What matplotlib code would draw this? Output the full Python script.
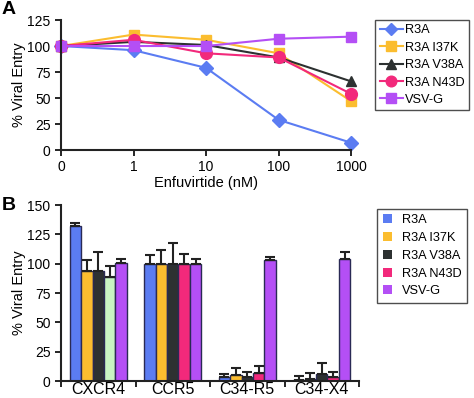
import numpy as np
import matplotlib.pyplot as plt
from matplotlib.patches import Patch

plt.rcParams['font.family'] = ['Liberation Sans', 'DejaVu Sans']

# Panel A: entry vs enfuvirtide dose
doses = ['0', '1', '10', '100', '1000']
r3a = [100, 96, 79, 29, 7]
r3a_i37k = [100, 111, 106, 93, 47]
r3a_v38a = [100, 104, 101, 89, 66]
r3a_n43d = [100, 106, 93, 89, 54]
vsvg = [100, 100, 100, 107, 109]

# Panel B: entry by receptor / inhibitor
conditions = ['CXCR4', 'CCR5', 'C34-R5', 'C34-X4']
bar_r3a = [132, 100, 3, 1]
bar_i37k = [94, 100, 5, 2]
bar_v38a = [94, 100, 3, 6]
bar_n43d = [89, 100, 7, 3]
bar_vsvg = [101, 100, 103, 104]
err_r3a = [3, 7, 3, 3]
err_i37k = [9, 12, 6, 5]
err_v38a = [16, 18, 5, 9]
err_n43d = [9, 8, 6, 5]
err_vsvg = [3, 4, 3, 6]

names = ['R3A', 'R3A I37K', 'R3A V38A', 'R3A N43D', 'VSV-G']
colors = ['#5b7cf2', '#fbbd2f', '#2d3131', '#f2297b', '#b44ff5']
markers = ['D', 's', '^', 'o', 's']
msizes = [7, 7.5, 7.5, 8.5, 7.5]

fig = plt.figure(figsize=(4.74, 3.98), dpi=100)

# ---- Panel A
ax1 = fig.add_axes([0.1287, 0.6231, 0.612, 0.3266])
xs = np.arange(len(doses))
for ys, c, m, ms, n in zip([r3a, r3a_i37k, r3a_v38a, r3a_n43d, vsvg], colors, markers, msizes, names):
    ax1.plot(xs, ys, color=c, marker=m, markersize=ms, lw=1.5, label=n, clip_on=False)
ax1.set_xlim(0, 4)
ax1.set_ylim(0, 125)
ax1.set_yticks([0, 25, 50, 75, 100, 125])
ax1.set_xticks(xs)
ax1.set_xticklabels(doses)
ax1.set_xlabel('Enfuvirtide (nM)', fontsize=10.5, labelpad=1)
ax1.set_ylabel('% Viral Entry', fontsize=10.5, labelpad=1)
ax1.legend(loc='upper left', bbox_to_anchor=(1.083, 1.0), fontsize=9.2, frameon=True,
           fancybox=False, edgecolor='#222222', handlelength=1.8, handletextpad=0.2,
           borderpad=0.35, labelspacing=0.42, borderaxespad=0, markerscale=0.9)
fig.text(0.003, 0.997, 'A', fontsize=14, fontweight='bold', va='top', ha='left')

# ---- Panel B
ax2 = fig.add_axes([0.1287, 0.0427, 0.6287, 0.4422])
gx = np.arange(len(conditions))
w = 0.153
vals = [bar_r3a, bar_i37k, bar_v38a, bar_n43d, bar_vsvg]
errs = [err_r3a, err_i37k, err_v38a, err_n43d, err_vsvg]
for i, (v, e, c) in enumerate(zip(vals, errs, colors)):
    pos = gx + (i - 2) * w
    bc = [c] * len(conditions)
    if i == 3:
        bc[0] = '#c9f5c2'
    ax2.bar(pos, v, width=w, color=bc, edgecolor='#2a2a55', linewidth=1.0)
    ax2.errorbar(pos, v, yerr=[np.zeros(len(e)), e], fmt='none', ecolor='#222222',
                 elinewidth=1.5, capsize=3.5, capthick=1.5)
ax2.set_xlim(-0.5, 3.5)
ax2.set_ylim(0, 150)
ax2.set_yticks([0, 25, 50, 75, 100, 125, 150])
ax2.set_xticks(gx)
ax2.set_xticklabels(conditions)
ax2.set_xticks(np.arange(-0.5, 4, 1), minor=True)
ax2.set_ylabel('% Viral Entry', fontsize=10.5, labelpad=1)
handles = [Patch(facecolor=c, edgecolor='none', label=n) for c, n in zip(colors, names)]
ax2.legend(handles=handles, loc='upper left', bbox_to_anchor=(1.06, 0.98), fontsize=9.2,
           frameon=True, fancybox=False, edgecolor='#222222', handlelength=0.7,
           handleheight=0.7, handletextpad=0.8, borderpad=0.45, labelspacing=0.45,
           borderaxespad=0)
fig.text(0.003, 0.505, 'B', fontsize=14, fontweight='bold', va='top', ha='left')

for ax in (ax1, ax2):
    for s in ['top', 'right']:
        ax.spines[s].set_visible(False)
    for s in ['left', 'bottom']:
        ax.spines[s].set_linewidth(1.5)
        ax.spines[s].set_color('#222222')
    ax.tick_params(axis='both', labelsize=10, direction='out', width=1.2, length=4)
ax2.tick_params(axis='x', which='major', length=0, pad=1, labelsize=11.5)
ax2.tick_params(axis='x', which='minor', length=4, width=1.2, direction='out')

fig.savefig('out.png', dpi=100)
